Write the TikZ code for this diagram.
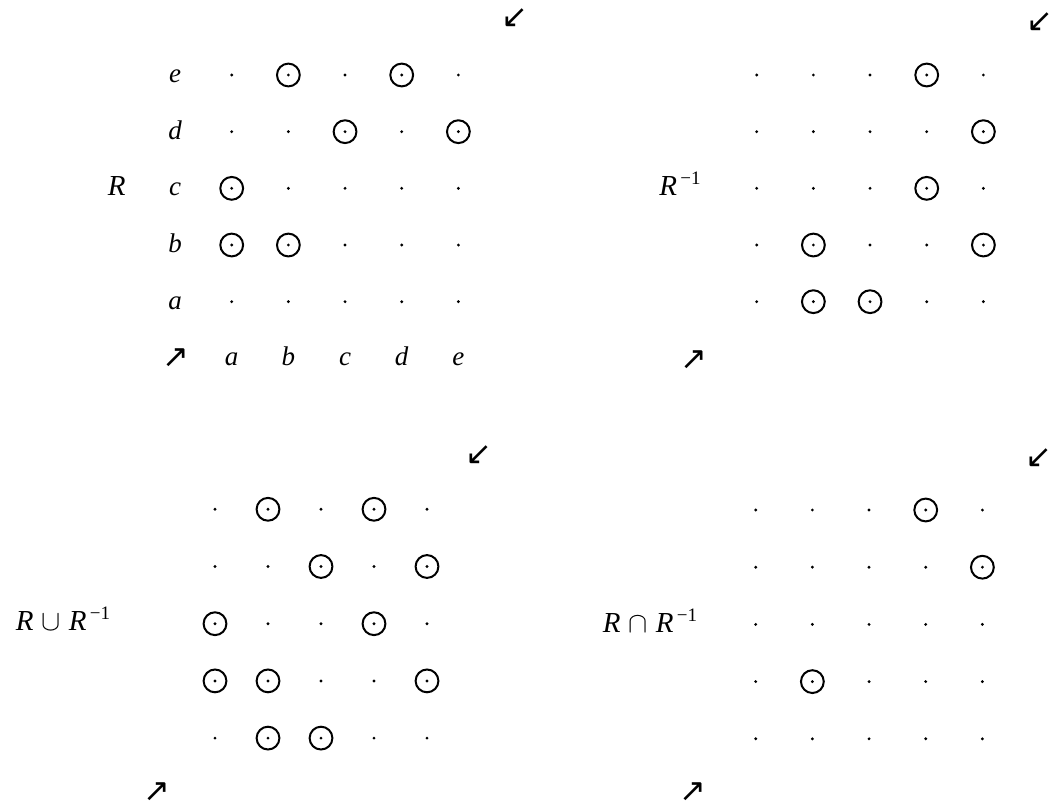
\documentclass[tikz,border=0pt]{standalone}
\usepackage{fontspec}
\setmainfont{Liberation Serif}
\newfontfamily\arrfont{DejaVu Sans}
\newcommand\relgrid[5]{%
  \foreach \i in {1,...,5}{\foreach \j in {1,...,5}{%
    \node[gdot] (#1-\i-\j) at ({#2+(\i-1)*#4},{#3+(\j-1)*#5}) {};}}}
\newcommand\relrings[2]{\foreach \i/\j in {#2}{\node[ring] (#1r-\i-\j) at (#1-\i-\j) {};}}
\newcommand\supm{\raisebox{0.85ex}{\fontsize{9.5}{10}\selectfont\,−1}}
\begin{document}
\begin{tikzpicture}[x=0.5pt,y=-0.5pt,
  lbl/.style={anchor=base, inner sep=0pt, font=\fontsize{13.5}{15}\selectfont\itshape},
  rel/.style={anchor=base, inner sep=0pt, font=\fontsize{14.5}{16}\selectfont},
  gdot/.style={circle, fill=black, inner sep=0pt, minimum size=1.6pt},
  ring/.style={circle, draw=black, line width=1pt, inner sep=0pt, minimum size=11.4pt},
  arr/.style={inner sep=0pt, font=\arrfont\fontsize{16}{17}\selectfont}]
\useasboundingbox[fill=white] (0,0) rectangle (1053,808);
% Panel 1: R
\relgrid{A}{231.7}{75}{56.67}{56.67}
\relrings{A}{2/1,4/1,3/2,5/2,1/3,1/4,2/4}
\foreach \t [count=\j] in {e,d,c,b,a}{\node[lbl] (Arow\j) at (175,{75+(\j-1)*56.67+7.5}) {\t};}
\foreach \t [count=\i] in {a,b,c,d,e}{\node[lbl] (Acol\i) at ({231.7+(\i-1)*56.67},365.8) {\t};}
\node[rel] (Alab) at (116.7,195.8) {\textit{R}};
\node[arr] (Ane) at (176,358) {↗};
\node[arr] (Asw) at (515,18) {↙};
% Panel 2: R^{-1}
\relgrid{B}{756.7}{75}{56.67}{56.67}
\relrings{B}{4/1,5/2,4/3,2/4,5/4,2/5,3/5}
\node[rel] (Blab) at (680,195.8) {\textit{R}\supm};
\node[arr] (Bne) at (694,360) {↗};
\node[arr] (Bsw) at (1040,22) {↙};
% Panel 3: R cup R^{-1}
\relgrid{C}{215}{509.3}{53}{57.2}
\relrings{C}{2/1,4/1,3/2,5/2,1/3,4/3,1/4,2/4,5/4,2/5,3/5}
\node[rel] (Clab) at (63,630.5) {\textit{R}\;$\cup$\;\textit{R}\supm};
\node[arr] (Cne) at (157,792) {↗};
\node[arr] (Csw) at (479,455) {↙};
% Panel 4: R cap R^{-1}
\relgrid{D}{755.7}{510}{56.67}{57.2}
\relrings{D}{4/1,5/2,2/4}
\node[rel] (Dlab) at (650,632.5) {\textit{R}\;$\cap$\;\textit{R}\supm};
\node[arr] (Dne) at (693,792) {↗};
\node[arr] (Dsw) at (1039,458) {↙};
\end{tikzpicture}
\end{document}
